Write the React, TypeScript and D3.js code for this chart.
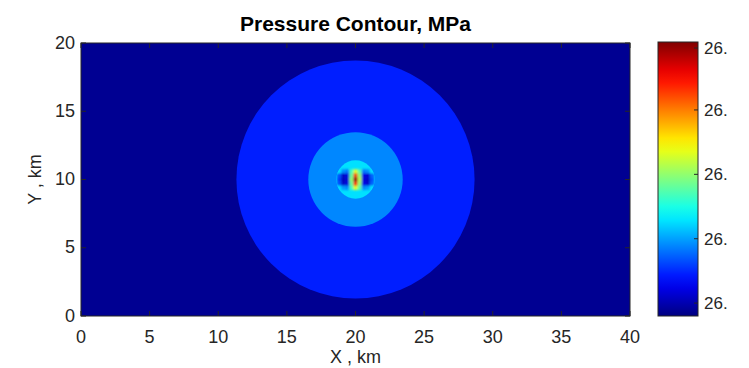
import React from "react";
import * as d3 from "d3";

// Domain of the model, km
const xDomain = [0, 40];
const yDomain = [0, 20];
const xTicks = [0, 5, 10, 15, 20, 25, 30, 35, 40];
const yTicks = [0, 5, 10, 15, 20];

// Well location, km
const wellX = 20;
const wellY = 10;

// Normalised pressure level of the far field and of the nested contour discs
const backgroundLevel = 0.018;
const ringRadiiKm = [8.7, 3.45, 1.4];
const ringLevels = [0.154, 0.257, 0.346];

// Near-well pressure cells (normalised), 0.3 km spacing around the well
const cellXs = [18.8, 19.1, 19.4, 19.7, 20.0, 20.3, 20.6, 20.9, 21.2];
const cellYs = [10.6, 10.3, 10.0, 9.7, 9.4];
const cellLevels = [
  [0.346, 0.26, 0.24, 0.44, 0.6, 0.46, 0.24, 0.26, 0.346],
  [0.2, 0.07, 0.09, 0.48, 0.8, 0.52, 0.1, 0.08, 0.22],
  [0.18, 0.06, 0.08, 0.52, 0.97, 0.56, 0.09, 0.07, 0.2],
  [0.2, 0.07, 0.09, 0.48, 0.82, 0.52, 0.1, 0.08, 0.22],
  [0.346, 0.28, 0.26, 0.44, 0.6, 0.46, 0.26, 0.28, 0.346],
];
const cellSize = 0.3;

// Colour bar
const colorbarTicks = [0.047, 0.282, 0.517, 0.752, 0.978];
const colorbarLabels = ["26.", "26.", "26.", "26.", "26."];

const title = "Pressure Contour, MPa";
const xLabel = "X , km";
const yLabel = "Y , km";

// Jet colour map
const jet = d3
  .scaleLinear<string>()
  .domain([0, 0.125, 0.375, 0.625, 0.875, 1])
  .range(["#000080", "#0000ff", "#00ffff", "#ffff00", "#ff0000", "#800000"])
  .interpolate(d3.interpolateRgb)
  .clamp(true);

const W = 749;
const H = 368;
const plot = { left: 81, right: 630, top: 43, bottom: 316 };
const bar = { left: 658, right: 698, top: 42, bottom: 316 };
const font = "'Liberation Sans', Arial, Helvetica, sans-serif";
const axisColor = "#262626";
const tickLen = 5;

export default function App() {
  const x = d3.scaleLinear().domain(xDomain).range([plot.left, plot.right]);
  const y = d3.scaleLinear().domain(yDomain).range([plot.bottom, plot.top]);
  const kmPx = (x(1) - x(0) + (y(0) - y(1))) / 2;
  const cb = d3.scaleLinear().domain([0, 1]).range([bar.bottom, bar.top]);

  const gradStops = d3.range(0, 1.0001, 0.05);

  return (
    <svg
      width={W}
      height={H}
      style={{ position: "absolute", left: 0, top: 0, background: "#fff" }}
      fontFamily={font}
    >
      <defs>
        <clipPath id="plotClip">
          <rect
            x={plot.left}
            y={plot.top}
            width={plot.right - plot.left}
            height={plot.bottom - plot.top}
          />
        </clipPath>
        <clipPath id="wellClip">
          <circle cx={x(wellX)} cy={y(wellY)} r={ringRadiiKm[2] * kmPx} />
        </clipPath>
        <filter id="soft" x="-20%" y="-20%" width="140%" height="140%">
          <feGaussianBlur stdDeviation="0.9" />
        </filter>
        <linearGradient id="jetBar" x1="0" y1="1" x2="0" y2="0">
          {gradStops.map((t) => (
            <stop key={t} offset={t} stopColor={jet(t)} />
          ))}
        </linearGradient>
      </defs>

      <text
        x={(plot.left + plot.right) / 2}
        y={30.5}
        textAnchor="middle"
        fontWeight="bold"
        fontSize={21}
        fill="#000"
      >
        {title}
      </text>

      <g clipPath="url(#plotClip)">
        <rect
          x={plot.left}
          y={plot.top}
          width={plot.right - plot.left}
          height={plot.bottom - plot.top}
          fill={jet(backgroundLevel)}
        />
        {ringRadiiKm.map((r, i) => (
          <circle
            key={i}
            cx={x(wellX)}
            cy={y(wellY)}
            r={r * kmPx}
            fill={jet(ringLevels[i])}
          />
        ))}
        <g clipPath="url(#wellClip)">
          <g filter="url(#soft)">
            {cellYs.map((cy, j) =>
              cellXs.map((cx, i) => (
                <rect
                  key={`${i}-${j}`}
                  x={x(cx - cellSize / 2)}
                  y={y(cy + cellSize / 2)}
                  width={x(cx + cellSize / 2) - x(cx - cellSize / 2) + 0.3}
                  height={y(cy - cellSize / 2) - y(cy + cellSize / 2) + 0.3}
                  fill={jet(cellLevels[j][i])}
                />
              ))
            )}
          </g>
        </g>
      </g>

      {/* axes box and inward ticks */}
      <rect
        x={plot.left}
        y={plot.top}
        width={plot.right - plot.left}
        height={plot.bottom - plot.top}
        fill="none"
        stroke={axisColor}
        strokeWidth={1}
      />
      {xTicks.map((t) => (
        <g key={`xt${t}`} stroke={axisColor}>
          <line x1={x(t)} x2={x(t)} y1={plot.bottom} y2={plot.bottom - tickLen} />
          <line x1={x(t)} x2={x(t)} y1={plot.top} y2={plot.top + tickLen} />
        </g>
      ))}
      {yTicks.map((t) => (
        <g key={`yt${t}`} stroke={axisColor}>
          <line x1={plot.left} x2={plot.left + tickLen} y1={y(t)} y2={y(t)} />
          <line x1={plot.right} x2={plot.right - tickLen} y1={y(t)} y2={y(t)} />
        </g>
      ))}
      {xTicks.map((t) => (
        <text
          key={`xl${t}`}
          x={x(t)}
          y={plot.bottom + 26.5}
          textAnchor="middle"
          fontSize={18}
          fill={axisColor}
        >
          {t}
        </text>
      ))}
      {yTicks.map((t) => (
        <text
          key={`yl${t}`}
          x={plot.left - 6}
          y={y(t) + 5.5}
          textAnchor="end"
          fontSize={18}
          fill={axisColor}
        >
          {t}
        </text>
      ))}
      <text
        x={(plot.left + plot.right) / 2}
        y={363}
        textAnchor="middle"
        fontSize={18}
        fill={axisColor}
      >
        {xLabel}
      </text>
      <text
        transform={`translate(41,${(plot.top + plot.bottom) / 2}) rotate(-90)`}
        textAnchor="middle"
        fontSize={18}
        fill={axisColor}
      >
        {yLabel}
      </text>

      {/* colour bar */}
      <rect
        x={bar.left}
        y={bar.top}
        width={bar.right - bar.left}
        height={bar.bottom - bar.top}
        fill="url(#jetBar)"
        stroke={axisColor}
        strokeWidth={1}
      />
      {colorbarTicks.map((t, i) => (
        <g key={`cb${i}`}>
          <line
            x1={bar.right}
            x2={bar.right - 4}
            y1={cb(t)}
            y2={cb(t)}
            stroke={axisColor}
          />
          <text x={bar.right + 6} y={cb(t) + 6} fontSize={17} fill={axisColor}>
            {colorbarLabels[i]}
          </text>
        </g>
      ))}
    </svg>
  );
}
